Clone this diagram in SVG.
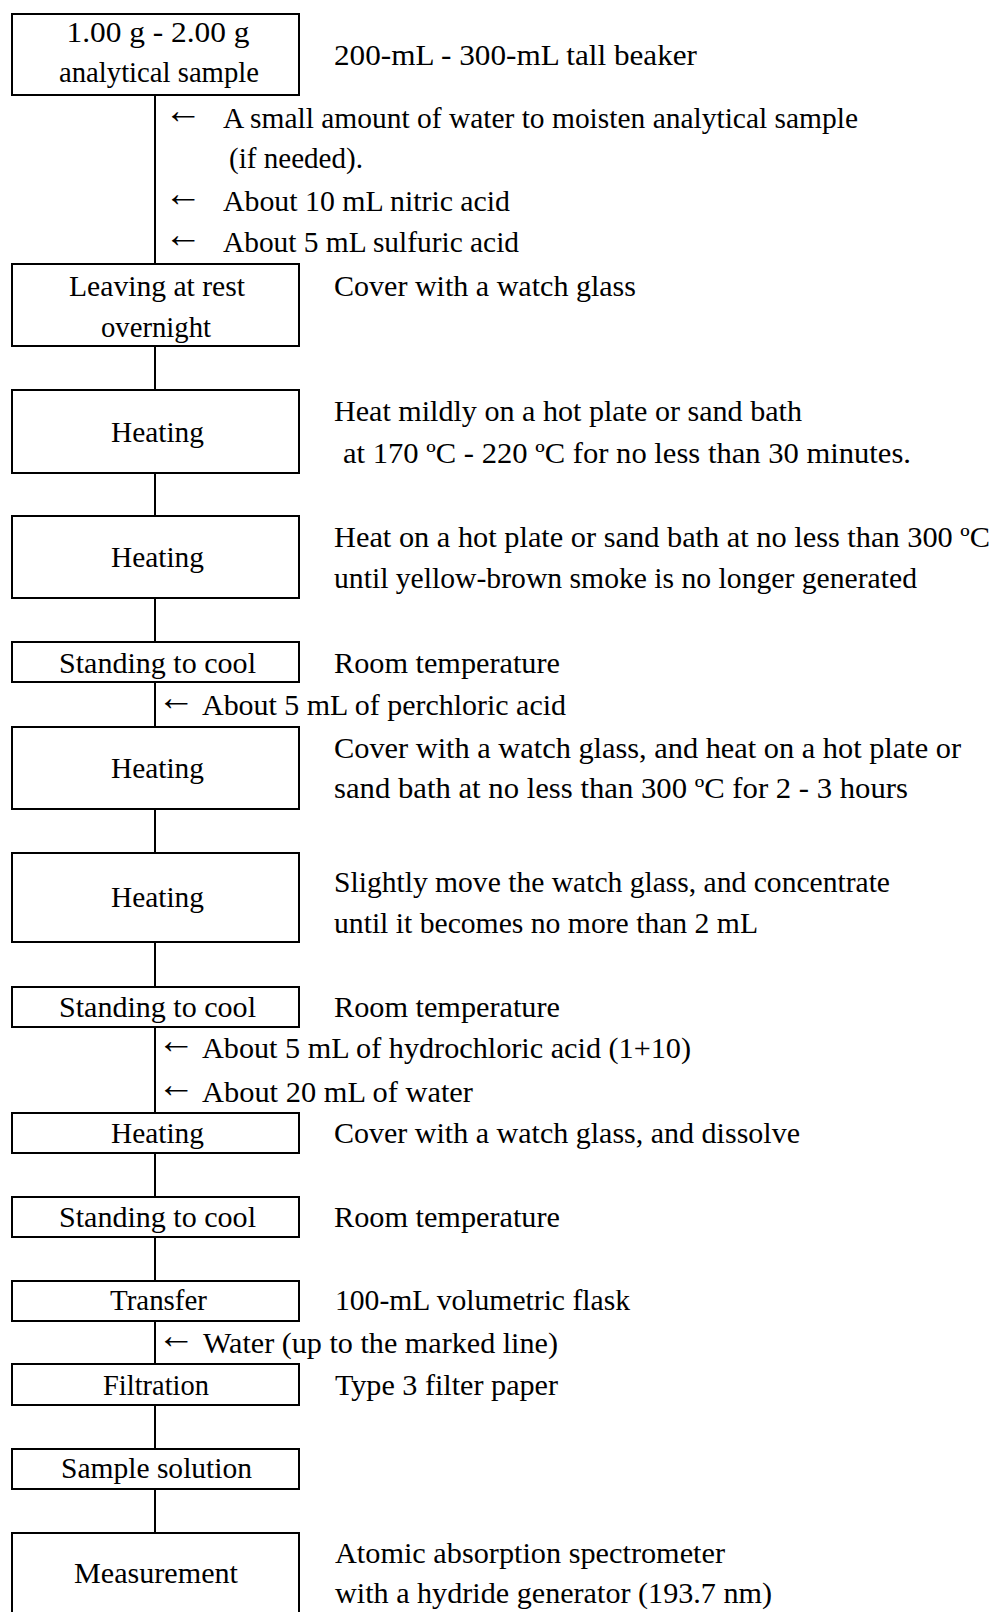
<svg xmlns="http://www.w3.org/2000/svg" width="998" height="1612" viewBox="0 0 998 1612" font-family="'Liberation Serif', 'Times New Roman', serif">
<style>
text{font-family:'Liberation Serif','Times New Roman',serif;font-size:29px;fill:#000}
.n{text-anchor:middle}
.ar{font-size:38px}
.box{fill:#fff;stroke:#000;stroke-width:2}
.con line{stroke:#000;stroke-width:2}
</style>
<rect width="998" height="1612" fill="#fff"/>
<g class="con" id="connectors">
<line x1="155" y1="95" x2="155" y2="264"/>
<line x1="155" y1="346" x2="155" y2="390"/>
<line x1="155" y1="473" x2="155" y2="516"/>
<line x1="155" y1="598" x2="155" y2="642"/>
<line x1="155" y1="682" x2="155" y2="727"/>
<line x1="155" y1="809" x2="155" y2="853"/>
<line x1="155" y1="942" x2="155" y2="987"/>
<line x1="155" y1="1027" x2="155" y2="1113"/>
<line x1="155" y1="1153" x2="155" y2="1197"/>
<line x1="155" y1="1237" x2="155" y2="1281"/>
<line x1="155" y1="1321" x2="155" y2="1364"/>
<line x1="155" y1="1405" x2="155" y2="1449"/>
<line x1="155" y1="1489" x2="155" y2="1533"/>
</g>
<g id="additions">
<text class="ar" x="164" y="123">←</text>
<text x="223" y="128" textLength="635" lengthAdjust="spacingAndGlyphs">A small amount of water to moisten analytical sample</text>
<text x="229" y="168" textLength="134" lengthAdjust="spacingAndGlyphs">(if needed).</text>
<text class="ar" x="164" y="206">←</text>
<text x="223" y="211" textLength="287" lengthAdjust="spacingAndGlyphs">About 10 mL nitric acid</text>
<text class="ar" x="164" y="247">←</text>
<text x="223" y="252" textLength="296" lengthAdjust="spacingAndGlyphs">About 5 mL sulfuric acid</text>
<text class="ar" x="157" y="710">←</text>
<text x="202" y="715" textLength="364" lengthAdjust="spacingAndGlyphs">About 5 mL of perchloric acid</text>
<text class="ar" x="157" y="1053">←</text>
<text x="202" y="1058" textLength="489" lengthAdjust="spacingAndGlyphs">About 5 mL of hydrochloric acid (1+10)</text>
<text class="ar" x="157" y="1097">←</text>
<text x="202" y="1102" textLength="271" lengthAdjust="spacingAndGlyphs">About 20 mL of water</text>
<text class="ar" x="157" y="1348">←</text>
<text x="203" y="1353" textLength="355" lengthAdjust="spacingAndGlyphs">Water (up to the marked line)</text>
</g>
<g id="n1">
<rect class="box" x="12" y="14" width="287" height="81"/>
<text class="n" x="158" y="42" textLength="183" lengthAdjust="spacingAndGlyphs">1.00 g - 2.00 g</text>
<text class="n" x="159" y="82" textLength="200" lengthAdjust="spacingAndGlyphs">analytical sample</text>
<text x="334" y="65" textLength="363" lengthAdjust="spacingAndGlyphs">200-mL - 300-mL tall beaker</text>
</g>
<g id="n2">
<rect class="box" x="12" y="264" width="287" height="82"/>
<text class="n" x="157" y="296" textLength="176" lengthAdjust="spacingAndGlyphs">Leaving at rest</text>
<text class="n" x="156" y="337" textLength="110" lengthAdjust="spacingAndGlyphs">overnight</text>
<text x="334" y="296" textLength="302" lengthAdjust="spacingAndGlyphs">Cover with a watch glass</text>
</g>
<g id="n3">
<rect class="box" x="12" y="390" width="287" height="83"/>
<text class="n" x="157.5" y="442" textLength="93" lengthAdjust="spacingAndGlyphs">Heating</text>
<text x="334" y="421" textLength="468" lengthAdjust="spacingAndGlyphs">Heat mildly on a hot plate or sand bath</text>
<text x="343" y="463" textLength="568" lengthAdjust="spacingAndGlyphs">at 170 ºC - 220 ºC for no less than 30 minutes.</text>
</g>
<g id="n4">
<rect class="box" x="12" y="516" width="287" height="82"/>
<text class="n" x="157.5" y="567" textLength="93" lengthAdjust="spacingAndGlyphs">Heating</text>
<text x="334" y="547" textLength="656" lengthAdjust="spacingAndGlyphs">Heat on a hot plate or sand bath at no less than 300 ºC</text>
<text x="334" y="588" textLength="583" lengthAdjust="spacingAndGlyphs">until yellow-brown smoke is no longer generated</text>
</g>
<g id="n5">
<rect class="box" x="12" y="642" width="287" height="40"/>
<text class="n" x="157.5" y="673" textLength="197" lengthAdjust="spacingAndGlyphs">Standing to cool</text>
<text x="334" y="673" textLength="226" lengthAdjust="spacingAndGlyphs">Room temperature</text>
</g>
<g id="n6">
<rect class="box" x="12" y="727" width="287" height="82"/>
<text class="n" x="157.5" y="778" textLength="93" lengthAdjust="spacingAndGlyphs">Heating</text>
<text x="334" y="758" textLength="627" lengthAdjust="spacingAndGlyphs">Cover with a watch glass, and heat on a hot plate or</text>
<text x="334" y="798" textLength="574" lengthAdjust="spacingAndGlyphs">sand bath at no less than 300 ºC for 2 - 3 hours</text>
</g>
<g id="n7">
<rect class="box" x="12" y="853" width="287" height="89"/>
<text class="n" x="157.5" y="907" textLength="93" lengthAdjust="spacingAndGlyphs">Heating</text>
<text x="334" y="892" textLength="556" lengthAdjust="spacingAndGlyphs">Slightly move the watch glass, and concentrate</text>
<text x="334" y="933" textLength="424" lengthAdjust="spacingAndGlyphs">until it becomes no more than 2 mL</text>
</g>
<g id="n8">
<rect class="box" x="12" y="987" width="287" height="40"/>
<text class="n" x="157.5" y="1017" textLength="197" lengthAdjust="spacingAndGlyphs">Standing to cool</text>
<text x="334" y="1017" textLength="226" lengthAdjust="spacingAndGlyphs">Room temperature</text>
</g>
<g id="n9">
<rect class="box" x="12" y="1113" width="287" height="40"/>
<text class="n" x="157.5" y="1143" textLength="93" lengthAdjust="spacingAndGlyphs">Heating</text>
<text x="334" y="1143" textLength="466" lengthAdjust="spacingAndGlyphs">Cover with a watch glass, and dissolve</text>
</g>
<g id="n10">
<rect class="box" x="12" y="1197" width="287" height="40"/>
<text class="n" x="157.5" y="1227" textLength="197" lengthAdjust="spacingAndGlyphs">Standing to cool</text>
<text x="334" y="1227" textLength="226" lengthAdjust="spacingAndGlyphs">Room temperature</text>
</g>
<g id="n11">
<rect class="box" x="12" y="1281" width="287" height="40"/>
<text class="n" x="158.5" y="1310" textLength="97" lengthAdjust="spacingAndGlyphs">Transfer</text>
<text x="335" y="1310" textLength="295" lengthAdjust="spacingAndGlyphs">100-mL volumetric flask</text>
</g>
<g id="n12">
<rect class="box" x="12" y="1364" width="287" height="41"/>
<text class="n" x="156" y="1395" textLength="106" lengthAdjust="spacingAndGlyphs">Filtration</text>
<text x="335" y="1395" textLength="223" lengthAdjust="spacingAndGlyphs">Type 3 filter paper</text>
</g>
<g id="n13">
<rect class="box" x="12" y="1449" width="287" height="40"/>
<text class="n" x="156.5" y="1478" textLength="191" lengthAdjust="spacingAndGlyphs">Sample solution</text>
</g>
<g id="n14">
<rect class="box" x="12" y="1533" width="287" height="100"/>
<text class="n" x="156" y="1583" textLength="164" lengthAdjust="spacingAndGlyphs">Measurement</text>
<text x="335" y="1563" textLength="390" lengthAdjust="spacingAndGlyphs">Atomic absorption spectrometer</text>
<text x="335" y="1603" textLength="437" lengthAdjust="spacingAndGlyphs">with a hydride generator (193.7 nm)</text>
</g>
</svg>
